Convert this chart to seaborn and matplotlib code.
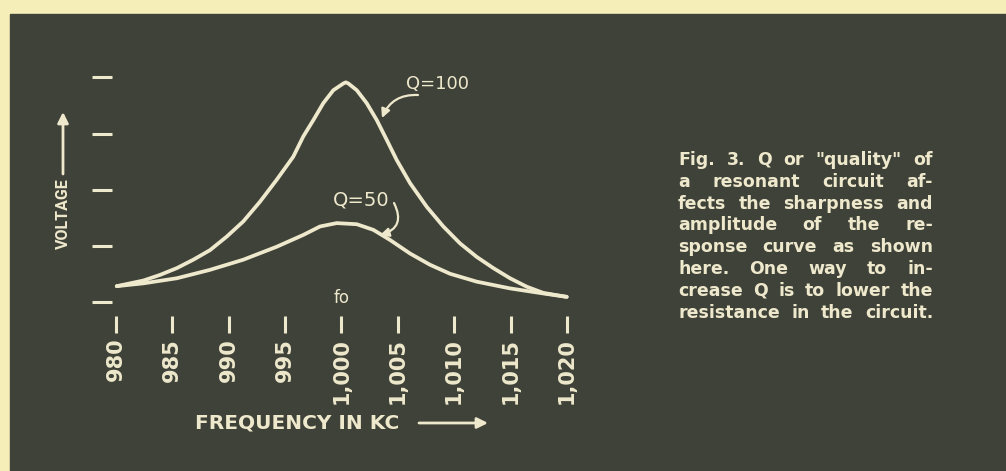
import matplotlib
matplotlib.use("Agg")
import matplotlib.pyplot as plt
import seaborn as sns
from matplotlib.patches import Rectangle

# ---- data -------------------------------------------------------------
freq_ticks = [980, 985, 990, 995, 1000, 1005, 1010, 1015, 1020]
freq_labels = ["980", "985", "990", "995", "1,000", "1,005", "1,010", "1,015", "1,020"]
voltage_ticks = [0, 1, 2, 3, 4]

q100_freq = [980.09, 982.45, 983.93, 985.41, 986.88, 988.36, 989.84, 991.31, 992.79,
             994.27, 995.74, 996.63, 997.52, 998.40, 999.29, 1000.18, 1000.40, 1000.62,
             1001.37, 1002.25, 1003.14, 1004.02, 1004.91, 1006.09, 1007.57, 1009.04,
             1010.52, 1012.00, 1013.48, 1014.96, 1016.44, 1017.91, 1019.98]
q100_volt = [0.29, 0.39, 0.49, 0.61, 0.76, 0.93, 1.17, 1.44, 1.79,
             2.18, 2.59, 2.95, 3.24, 3.54, 3.77, 3.89, 3.91, 3.89,
             3.77, 3.54, 3.24, 2.89, 2.53, 2.12, 1.70, 1.35,
             1.05, 0.81, 0.61, 0.43, 0.28, 0.17, 0.10]

q50_freq = [980.09, 982.45, 985.41, 988.36, 991.31, 994.27, 996.63, 998.11, 999.59,
            1001.37, 1002.84, 1004.32, 1006.09, 1007.86, 1009.64, 1012.00, 1014.96,
            1017.91, 1019.98]
q50_volt = [0.29, 0.34, 0.43, 0.58, 0.76, 0.99, 1.20, 1.35, 1.41,
            1.39, 1.29, 1.11, 0.87, 0.67, 0.51, 0.37, 0.25,
            0.16, 0.10]

caption_lines = [
    'Fig. 3. Q or "quality" of',
    'a resonant circuit af-',
    'fects the sharpness and',
    'amplitude of the re-',
    'sponse curve as shown',
    'here. One way to in-',
    'crease Q is to lower the',
    'resistance in the circuit.',
]

# ---- style ------------------------------------------------------------
sns.set_style("white")
plt.rcParams["font.family"] = ["DejaVu Sans"]

PAPER = "#f6eeb9"
PANEL = "#3f4238"
INK = "#eee8cc"

W, H = 1006, 471


def fx(px):
    return px / W


def fy(py):
    return 1 - py / H


fig = plt.figure(figsize=(W / 100, H / 100), dpi=100, facecolor=PAPER)
fig.patches.append(Rectangle((fx(10), 0), 1 - fx(10), fy(14),
                             transform=fig.transFigure, color=PANEL, zorder=-10))

ax = fig.add_axes([fx(112), fy(316), fx(600) - fx(112), fy(40) - fy(316)])
ax.set_facecolor("none")

line_kw = dict(color=INK, lw=2.7, sort=False, estimator=None,
               solid_capstyle="round", solid_joinstyle="round")
sns.lineplot(x=q100_freq, y=q100_volt, ax=ax, **line_kw)
sns.lineplot(x=q50_freq, y=q50_volt, ax=ax, **line_kw)

ax.set_xlim(979.67, 1022.93)
ax.set_ylim(-0.24, 4.662)
ax.set_xticks(freq_ticks)
ax.set_xticklabels(freq_labels, rotation=90, fontsize=15, fontweight="bold", color=INK)
ax.set_yticks(voltage_ticks)
ax.set_yticklabels([])
ax.tick_params(axis="x", direction="out", length=12.2, width=2.2, color=INK, pad=3.5,
               bottom=True)
ax.tick_params(axis="y", direction="out", length=14.4, width=2.2, color=INK, left=True)
for s in ax.spines.values():
    s.set_visible(False)
ax.set_xlabel("")
ax.set_ylabel("")
ax.grid(False)

# ---- curve labels ---------------------------------------------------
arrow_kw = dict(arrowstyle="-|>", color=INK, lw=1.6, mutation_scale=13, shrinkA=0, shrinkB=0)
ax.annotate("Q=100", xy=(fx(437.5), fy(84)), xycoords="figure fraction",
            ha="center", va="center", fontsize=13, color=INK)
ax.annotate("", xy=(fx(382), fy(118)), xycoords="figure fraction",
            xytext=(fx(418), fy(95)), textcoords="figure fraction",
            arrowprops=dict(connectionstyle="arc3,rad=0.35", **arrow_kw))
ax.annotate("Q=50", xy=(fx(361.5), fy(200)), xycoords="figure fraction",
            ha="center", va="center", fontsize=14, color=INK)
ax.annotate("", xy=(fx(380), fy(235)), xycoords="figure fraction",
            xytext=(fx(394), fy(203)), textcoords="figure fraction",
            arrowprops=dict(connectionstyle="arc3,rad=-0.6", **arrow_kw))
ax.annotate("fo", xy=(fx(342), fy(298)), xycoords="figure fraction",
            ha="center", va="center", fontsize=12, color=INK)

# ---- axis titles with arrows ---------------------------------------
fig.text(fx(63), fy(214), "VOLTAGE", rotation=90, ha="center", va="center",
         fontsize=11.5, fontweight="bold", color=INK, family=["Roboto", "DejaVu Sans"])
ax.annotate("", xy=(fx(63), fy(112)), xycoords="figure fraction",
            xytext=(fx(63), fy(174)), textcoords="figure fraction",
            arrowprops=dict(arrowstyle="-|>", color=INK, lw=2.0, mutation_scale=16,
                            shrinkA=0, shrinkB=0))
fig.text(fx(195), fy(423), "FREQUENCY IN KC", ha="left", va="center",
         fontsize=14.5, fontweight="bold", color=INK)
ax.annotate("", xy=(fx(488), fy(423)), xycoords="figure fraction",
            xytext=(fx(419), fy(423)), textcoords="figure fraction",
            arrowprops=dict(arrowstyle="-|>", color=INK, lw=2.0, mutation_scale=16,
                            shrinkA=0, shrinkB=0))

# ---- justified caption -----------------------------------------------
renderer = fig.canvas.get_renderer()
cap_left, cap_right = 678, 933
base0, step = 165, 21.8
for i, line in enumerate(caption_lines):
    words = line.split()
    texts = [fig.text(0, 0, w, fontsize=12.5, fontweight="bold", color=INK,
                      ha="left", va="baseline") for w in words]
    widths = [t.get_window_extent(renderer).width for t in texts]
    gap = (cap_right - cap_left - sum(widths)) / max(len(words) - 1, 1)
    x = cap_left
    y = base0 + i * step
    for t, w in zip(texts, widths):
        t.set_position((fx(x), fy(y)))
        x += w + gap

fig.savefig("out.png", dpi=100, facecolor=PAPER)
